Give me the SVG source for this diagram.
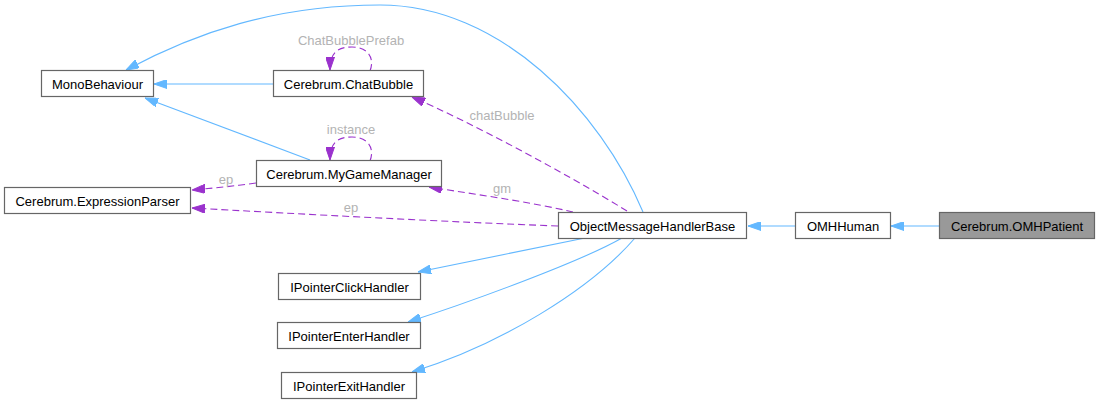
<svg xmlns="http://www.w3.org/2000/svg" width="1099" height="403" viewBox="0 0 1099 403">
<style>
.node rect{fill:#ffffff;stroke:#666666;stroke-width:1.2}
.node text{font-family:"Liberation Sans",Arial,sans-serif;font-size:13px;fill:#000000;text-anchor:middle}
.inh{fill:none;stroke:#63b8ff;stroke-width:1.1}
.use{fill:none;stroke:#9a32cd;stroke-width:1.1;stroke-dasharray:7,4}
.lbl{font-family:"Liberation Sans",Arial,sans-serif;font-size:13px;fill:#b3b3b3;text-anchor:middle}
</style>
<defs>
<marker id="ab" viewBox="0 0 13 9" refX="13" refY="4.5" markerWidth="13" markerHeight="9" markerUnits="userSpaceOnUse" orient="auto">
<path d="M0,0 L13,4.5 L0,9 Z" fill="#63b8ff" stroke="#63b8ff" stroke-width="1"/>
</marker>
<marker id="ap" viewBox="0 0 13 9" refX="13" refY="4.5" markerWidth="13" markerHeight="9" markerUnits="userSpaceOnUse" orient="auto">
<path d="M0,0 L13,4.5 L0,9 Z" fill="#9a32cd" stroke="#9a32cd" stroke-width="1"/>
</marker>
</defs>
<rect width="1099" height="403" fill="#ffffff"/>
<g id="connectors">
<path class="inh" marker-end="url(#ab)" d="M273,84 L154,84"/>
<path class="inh" marker-end="url(#ab)" d="M310,160 L145,98"/>
<path class="inh" marker-end="url(#ab)" d="M643,212 C600,110 500,5 380,5 C275,5 195,33 126,70"/>
<path class="use" marker-end="url(#ap)" d="M370,71 C375,58 368,47 352,47 C338,47 330,52 330,70"/>
<path class="use" marker-end="url(#ap)" d="M370,161 C375,148 368,137 352,137 C338,137 330,142 330,160"/>
<path class="use" marker-end="url(#ap)" d="M256,183 C235,186 215,188 192,190"/>
<path class="use" marker-end="url(#ap)" d="M558,226 C450,222 300,214 192,208"/>
<path class="use" marker-end="url(#ap)" d="M627,211 C560,170 470,122 412,97"/>
<path class="use" marker-end="url(#ap)" d="M573,212 C530,202 480,195 429,187"/>
<path class="inh" marker-end="url(#ab)" d="M795,226 L748,226"/>
<path class="inh" marker-end="url(#ab)" d="M939,226 L891,226"/>
<path class="inh" marker-end="url(#ab)" d="M585,238 L418,272"/>
<path class="inh" marker-end="url(#ab)" d="M622,238 C580,262 470,302 408,322"/>
<path class="inh" marker-end="url(#ab)" d="M635,238 C590,290 500,345 412,372"/>
<text class="lbl" x="351" y="45">ChatBubblePrefab</text>
<text class="lbl" x="351" y="134">instance</text>
<text class="lbl" x="226" y="184">ep</text>
<text class="lbl" x="351" y="212">ep</text>
<text class="lbl" x="502" y="120">chatBubble</text>
<text class="lbl" x="502" y="193">gm</text>
</g>
<g id="MonoBehaviour" class="node"><rect x="41.5" y="70.5" width="112" height="26"/><text x="97.5" y="89">MonoBehaviour</text></g>
<g id="ChatBubble" class="node"><rect x="273.5" y="70.5" width="150" height="26"/><text x="348.5" y="89">Cerebrum.ChatBubble</text></g>
<g id="MyGameManager" class="node"><rect x="256.5" y="160.5" width="185" height="26"/><text x="349" y="179">Cerebrum.MyGameManager</text></g>
<g id="ExpressionParser" class="node"><rect x="4.5" y="187.5" width="186" height="26"/><text x="97.5" y="206">Cerebrum.ExpressionParser</text></g>
<g id="ObjectMessageHandlerBase" class="node"><rect x="558.5" y="212.5" width="188" height="26"/><text x="652.5" y="231">ObjectMessageHandlerBase</text></g>
<g id="OMHHuman" class="node"><rect x="795.5" y="212.5" width="95" height="26"/><text x="843" y="231">OMHHuman</text></g>
<g id="OMHPatient" class="node"><rect x="939.5" y="212.5" width="155" height="26" style="fill:#999999"/><text x="1017" y="231">Cerebrum.OMHPatient</text></g>
<g id="IPointerClickHandler" class="node"><rect x="278.5" y="273.5" width="142" height="26"/><text x="349.5" y="292">IPointerClickHandler</text></g>
<g id="IPointerEnterHandler" class="node"><rect x="277.5" y="322.5" width="143" height="26"/><text x="349" y="341">IPointerEnterHandler</text></g>
<g id="IPointerExitHandler" class="node"><rect x="281.5" y="372.5" width="135" height="26"/><text x="349" y="391">IPointerExitHandler</text></g>
</svg>
